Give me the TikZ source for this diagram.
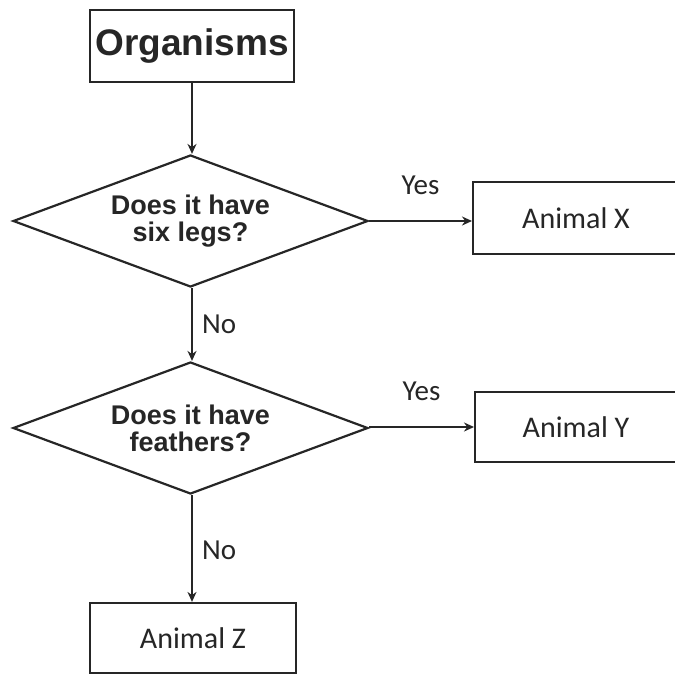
\documentclass[tikz,border=0pt]{standalone}
\usepackage{fontspec}
\setmainfont{Liberation Sans}
\newfontfamily\calfont{Carlito}
\usetikzlibrary{shapes.geometric,arrows.meta}
\begin{document}
\begin{tikzpicture}[x=1pt,y=-1pt,
  box/.style={draw=black!85,line width=2.2pt,rectangle,inner sep=0pt},
  dia/.style={draw=black!85,line width=2.2pt,diamond,inner sep=0pt,aspect=2.69,
    minimum width=355pt,minimum height=132pt,align=center,
    font=\fontsize{27}{27}\selectfont\bfseries,text=black!85},
  lab/.style={font=\calfont\fontsize{29}{30}\selectfont,text=black!85},
  conn/.style={draw=black!85,line width=1.8pt,-{Stealth[length=10pt,width=9pt]}}]
\clip (0,0) rectangle (675,675);
\fill[white] (0,0) rectangle (675,675);
\node[box,minimum width=204pt,minimum height=72pt,font=\fontsize{37}{38}\selectfont\bfseries,text=black!85] (org) at (192,46) {Organisms};
\node[dia] (d1) at (190.5,221) {Does it have\\six legs?};
\node[dia] (d2) at (190.5,428) {Does it have\\feathers?};
\node[box,minimum width=220pt,minimum height=72pt,anchor=west] (ax) at (472,218) {};
\node[lab,font=\calfont\fontsize{30}{31}\selectfont] (axt) at (576,218) {Animal X};
\node[box,minimum width=220pt,minimum height=70pt,anchor=west] (ay) at (474,427) {};
\node[lab,font=\calfont\fontsize{30}{31}\selectfont] (ayt) at (576,427) {Animal Y};
\node[box,minimum width=206pt,minimum height=70pt,font=\calfont\fontsize{30}{31}\selectfont,text=black!85] (az) at (193,638) {Animal Z};
\draw[conn] (org.south -| 192,0) -- (d1.north -| 192,0);
\draw[conn] (d1.south -| 192,0) -- node[lab,right=6pt] {No} (d2.north -| 192,0);
\draw[conn] (d2.south -| 192,0) -- node[lab,right=6pt,pos=0.52] {No} (az.north -| 192,0);
\draw[conn] (d1.east) -- node[lab,above=22pt] {Yes} (ax.west |- d1.east);
\draw[conn] (d2.east |- 0,427) -- node[lab,above=22pt] {Yes} (ay.west |- 0,427);
\end{tikzpicture}
\end{document}
